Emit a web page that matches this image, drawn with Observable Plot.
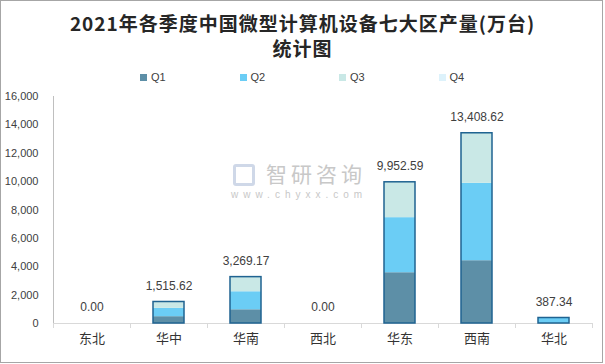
<!DOCTYPE html>
<html>
<head>
<meta charset="utf-8">
<script src="https://cdn.jsdelivr.net/npm/d3@7"></script>
<script src="https://cdn.jsdelivr.net/npm/@observablehq/plot@0.6"></script>
<style>
  body { margin: 0; background: #fff; }
  #wrap { position: relative; width: 605px; height: 364px; overflow: hidden; background: #fff; }
  #border { position: absolute; left: 0; top: 0; width: 603px; height: 363px; box-sizing: border-box; border: 1px solid #a6a6a6; pointer-events: none; }
  #title { position: absolute; left: 0; top: 10px; width: 605px; text-align: center; font-family: "Noto Sans CJK SC", sans-serif; font-weight: bold; font-size: 19px; letter-spacing: 1px; line-height: 25px; color: #262626; }
  #legend { position: absolute; left: 140px; top: 70px; height: 14px; display: flex; font-family: "Liberation Sans", Arial, sans-serif; font-size: 11px; color: #404040; }
  .item { width: 99.5px; display: flex; align-items: center; }
  .sw { width: 7px; height: 7px; margin-right: 4px; }
  #chart { position: absolute; left: 0; top: 86px; }
  #wm { position: absolute; left: 233px; top: 161px; color: #c8c8c8; font-family: "Noto Sans CJK SC", sans-serif; }
  #wm div { line-height: 1; white-space: nowrap; position: absolute; }
</style>
</head>
<body>
<div id="wrap">
  <div id="title">2021年各季度中国微型计算机设备七大区产量(万台)<br>统计图</div>
  <div id="legend"></div>
  <div id="chart"></div>
  <div id="wm">
    <div style="left:0;top:3px;width:22px;height:22px;border:3px solid #cfd8e8;border-radius:3px;box-sizing:border-box;"></div>
    <div style="left:33px;top:2px;font-size:21px;letter-spacing:4px;">智研咨询</div>
    <div style="left:-2px;top:29px;font-size:10px;letter-spacing:5px;font-family:'Liberation Sans',sans-serif;">www.chyxx.com</div>
  </div>
  <div id="border"></div>
</div>
<script>
const regions = ["东北", "华中", "华南", "西北", "华东", "西南", "华北"];
const quarters = ["Q1", "Q2", "Q3", "Q4"];
const q1 = [0, 480, 967, 0, 3578, 4425, 0];
const q2 = [0, 590, 1270, 0, 3881, 5455, 387.34];
const q3 = [0, 445.62, 1032.17, 0, 2493.59, 3528.62, 0];
const q4 = [0, 0, 0, 0, 0, 0, 0];
const totals = [0.00, 1515.62, 3269.17, 0.00, 9952.59, 13408.62, 387.34];
const yTicks = [0, 2000, 4000, 6000, 8000, 10000, 12000, 14000, 16000];
const colors = ["#5d8fa7", "#6bcdf5", "#c9e8e6", "#ddf2fb"];

const series = [q1, q2, q3, q4];
const data = [];
regions.forEach((r, i) => quarters.forEach((q, j) => data.push({region: r, quarter: q, value: series[j][i]})));
const tot = regions.map((r, i) => ({region: r, total: totals[i]}));

const leg = document.getElementById("legend");
quarters.forEach((q, j) => {
  const it = document.createElement("div");
  it.className = "item";
  it.innerHTML = `<div class="sw" style="background:${colors[j]}"></div><span>${q}</span>`;
  leg.appendChild(it);
});

const W = 605, H = 278, mL = 53, mR = 13;
const step = (W - mL - mR) / regions.length;

const chart = Plot.plot({
  width: W,
  height: H,
  marginLeft: mL,
  marginRight: mR,
  marginTop: 10,
  marginBottom: 41,
  style: {fontFamily: "'Liberation Sans', Arial, sans-serif", fontSize: "11px", color: "#404040", background: "transparent"},
  x: {domain: regions, paddingInner: 0.6, paddingOuter: 0.3, axis: null},
  y: {domain: [0, 16000], axis: null},
  color: {domain: quarters, range: colors},
  marks: [
    Plot.ruleY([0], {stroke: "#d9d9d9"}),
    Plot.ruleX([0], {x: () => regions[0], dx: -step / 2, y1: 0, y2: 16000, stroke: "#bfbfbf"}),
    Plot.ruleX(regions, {x: d => d, y1: 0, y2: 0, dx: -step / 2, insetBottom: -5, stroke: "#d9d9d9"}),
    Plot.ruleX([regions[regions.length - 1]], {x: d => d, y1: 0, y2: 0, dx: step / 2, insetBottom: -5, stroke: "#d9d9d9"}),
    Plot.axisY({ticks: yTicks, tickSize: 0, tickPadding: 15, tickFormat: d3.format(","), fontSize: 11, fill: "#404040", label: null}),
    Plot.axisX({tickSize: 0, tickPadding: 10, fontSize: 13, fill: "#333", fontFamily: "'Noto Sans CJK SC', sans-serif", label: null}),
    Plot.barY(data, {x: "region", y: "value", fill: "quarter", order: quarters}),
    Plot.barY(tot.filter(d => d.total > 0), {x: "region", y: "total", fill: "none", stroke: "#1f6391", strokeWidth: 1.5}),
    Plot.text(tot, {x: "region", y: "total", text: d => d3.format(",.2f")(d.total), dy: -16, fontSize: 12, fill: "#404040"})
  ]
});
document.getElementById("chart").appendChild(chart);
</script>
</body>
</html>
